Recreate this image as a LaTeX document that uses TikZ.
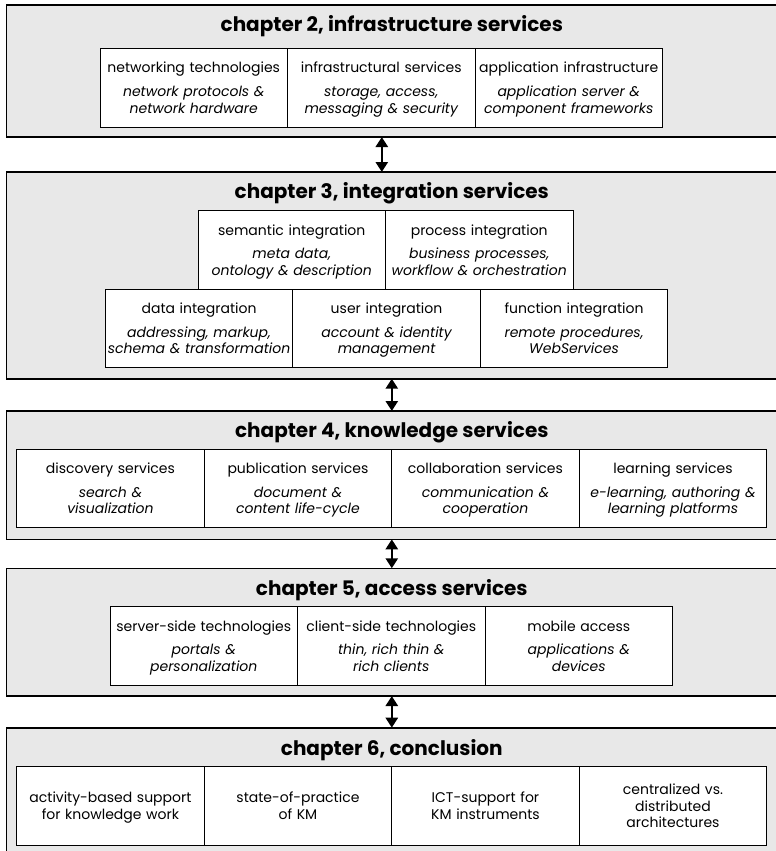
\documentclass[tikz,border=0pt]{standalone}
\usepackage{fontspec}
\setmainfont{Poppins}
\usetikzlibrary{positioning,arrows.meta}
\definecolor{chapgray}{gray}{0.91}

\begin{document}
\begin{tikzpicture}[x=1pt,y=-1pt,
    chapter/.style={draw, line width=1.6pt, fill=chapgray, minimum width=771pt,
      anchor=north west, inner sep=0pt, outer sep=0pt},
    title/.style={font=\fontsize{20}{23}\selectfont\bfseries},
    topic/.style={draw, fill=white, line width=1pt, minimum width=187.5pt,
      minimum height=78.5pt, text width=186pt, align=center, inner sep=0pt,
      outer sep=0pt, font=\fontsize{14}{16.6}\selectfont,
      execute at begin node=\rule{0pt}{15.6pt}, execute at end node=\strut},
    link/.style={{Triangle[length=10pt,width=12pt]}-{Triangle[length=10pt,width=12pt]},
      line width=2.6pt}]
  \useasboundingbox (0,0) rectangle (776,851);

  % chapter frames
  \node[chapter, minimum height=132pt] (ch2) at (6.3,5) {};
  \node[chapter, minimum height=206.7pt] (ch3) at (6.3,172) {};
  \node[chapter, minimum height=128.3pt] (ch4) at (6.3,411) {};
  \node[chapter, minimum height=127.7pt] (ch5) at (6.3,568.3) {};
  \node[chapter, minimum height=140pt] (ch6) at (6.3,727.7) {};

  \node[title] (t2) at ([yshift=-21pt]ch2.north) {chapter 2, infrastructure services};
  \node[title] (t3) at ([yshift=-21pt]ch3.north) {chapter 3, integration services};
  \node[title] (t4) at ([yshift=-21pt]ch4.north) {chapter 4, knowledge services};
  \node[title] (t5) at ([yshift=-21.5pt]ch5.north) {chapter 5, access services};
  \node[title] (t6) at ([yshift=-22pt]ch6.north) {chapter 6, conclusion};

  % chapter 2
  \node[topic, anchor=north west] (net) at (100,48.5)
    {networking technologies\\[7pt]\itshape network protocols \&\\network hardware};
  \node[topic] (infra) [right=0pt of net]
    {infrastructural services\\[7pt]\itshape storage, access,\\messaging \& security};
  \node[topic] (app) [right=0pt of infra]
    {application infrastructure\\[7pt]\itshape application server \&\\component frameworks};

  % chapter 3
  \node[topic, anchor=north west] (sem) at (198,210.7)
    {semantic integration\\[7pt]\itshape meta data,\\ontology \& description};
  \node[topic] (proc) [right=0pt of sem]
    {process integration\\[7pt]\itshape business processes,\\workflow \& orchestration};
  \node[topic, anchor=north west] (data) at (105.3,289)
    {data integration\\[7pt]\itshape addressing, markup,\\schema \& transformation};
  \node[topic] (user) [right=0pt of data]
    {user integration\\[7pt]\itshape account \& identity\\management};
  \node[topic] (func) [right=0pt of user]
    {function integration\\[7pt]\itshape remote procedures,\\WebServices};

  % chapter 4
  \node[topic, anchor=north west] (disc) at (16.7,449)
    {discovery services\\[7pt]\itshape search \&\\visualization};
  \node[topic] (pub) [right=0pt of disc]
    {publication services\\[7pt]\itshape document \&\\content life-cycle};
  \node[topic] (coll) [right=0pt of pub]
    {collaboration services\\[7pt]\itshape communication \&\\cooperation};
  \node[topic] (learn) [right=0pt of coll]
    {learning services\\[7pt]\itshape e-learning, authoring \&\\learning platforms};

  % chapter 5
  \node[topic, anchor=north west] (server) at (110,606.7)
    {server-side technologies\\[7pt]\itshape portals \&\\personalization};
  \node[topic] (client) [right=0pt of server]
    {client-side technologies\\[7pt]\itshape thin, rich thin \&\\rich clients};
  \node[topic] (mobile) [right=0pt of client]
    {mobile access\\[7pt]\itshape applications \&\\devices};

  % chapter 6
  \node[topic, anchor=north west] (act) at (16.7,766.7)
    {activity-based support\\for knowledge work};
  \node[topic] (state) [right=0pt of act] {state-of-practice\\of KM};
  \node[topic] (ict) [right=0pt of state] {ICT-support for\\KM instruments};
  \node[topic] (arch) [right=0pt of ict] {centralized vs.\\distributed\\architectures};

  % links between chapters
  \draw[link] ([xshift=-10pt]ch2.south) -- ([xshift=-10pt]ch3.north);
  \draw[link] (ch3.south) -- (ch4.north);
  \draw[link] (ch4.south) -- (ch5.north);
  \draw[link] (ch5.south) -- (ch6.north);
\end{tikzpicture}
\end{document}
